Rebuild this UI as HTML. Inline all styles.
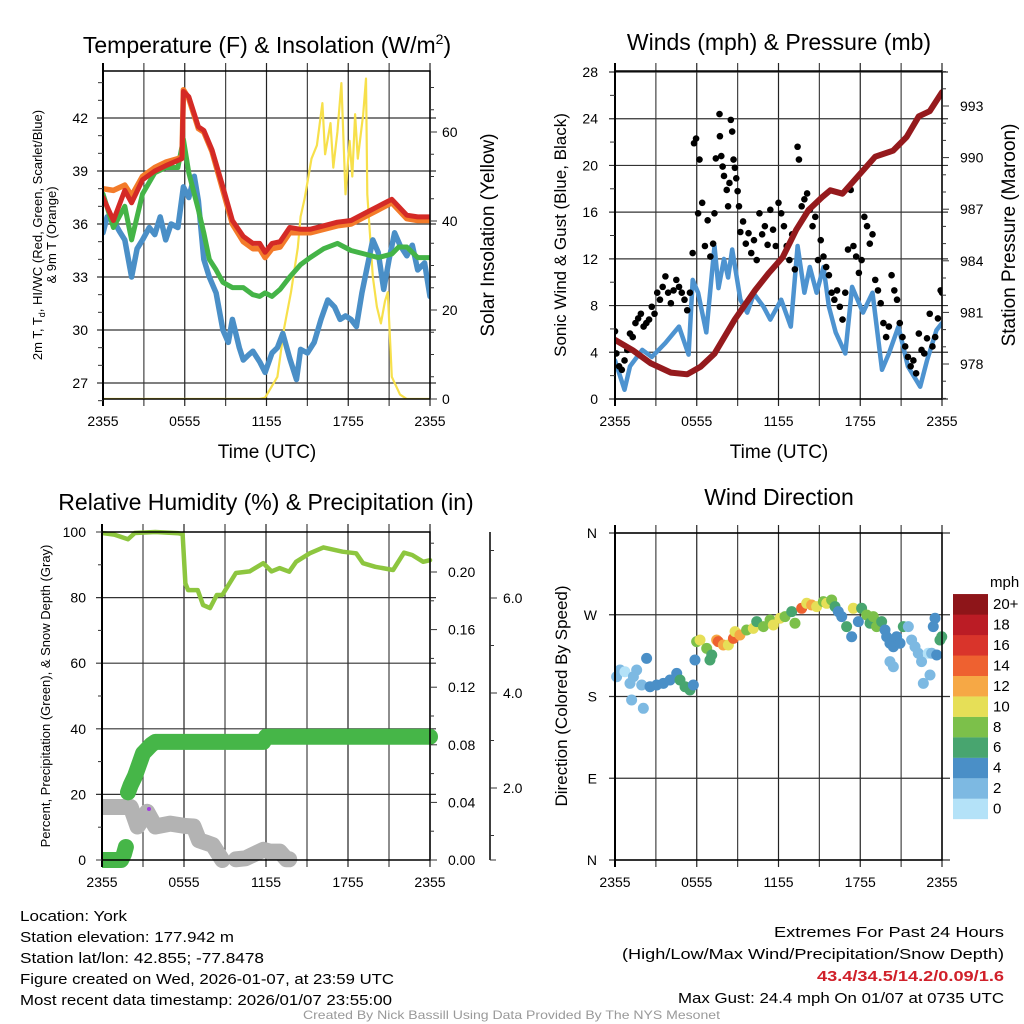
<!DOCTYPE html>
<html><head><meta charset="utf-8"><title>York Mesonet</title>
<style>
html,body{margin:0;padding:0;background:#fff;}
svg{display:block;font-family:"Liberation Sans",Arial,sans-serif;}
</style></head>
<body>
<svg id="chart" xmlns="http://www.w3.org/2000/svg" width="1024" height="1024" viewBox="0 0 1024 1024">
<defs>
<clipPath id="c1"><rect x="103" y="71" width="327" height="328"/></clipPath>
<clipPath id="c2"><rect x="615" y="71" width="327" height="328"/></clipPath>
<clipPath id="c3"><rect x="102" y="520" width="340" height="352"/></clipPath>
<clipPath id="c4"><rect x="605" y="525" width="345" height="342"/></clipPath>
</defs>
<g id="grids"></g>
<g id="marks"></g>
<g id="axes"></g>
<text x="267" y="53" font-size="23" text-anchor="middle">Temperature (F) &amp; Insolation (W/m<tspan dy="-9" font-size="14">2</tspan><tspan dy="9">)</tspan></text>
<text x="779" y="50" font-size="23" text-anchor="middle">Winds (mph) &amp; Pressure (mb)</text>
<text x="266" y="510" font-size="23" text-anchor="middle">Relative Humidity (%) &amp; Precipitation (in)</text>
<text x="779" y="505" font-size="23" text-anchor="middle">Wind Direction</text>
<text x="267" y="458" font-size="19" text-anchor="middle">Time (UTC)</text>
<text x="779" y="458" font-size="19" text-anchor="middle">Time (UTC)</text>
<g transform="translate(42,235) rotate(-90)" font-size="13" text-anchor="middle">
<text x="0" y="0">2m T, T<tspan font-size="9" dy="3">d</tspan><tspan dy="-3">, HI/WC (Red, Green, Scarlet/Blue)</tspan></text>
<text x="0" y="14">&amp; 9m T (Orange)</text></g>
<text transform="translate(494,235) rotate(-90)" font-size="19" text-anchor="middle">Solar Insolation (Yellow)</text>
<text transform="translate(566,235) rotate(-90)" font-size="17" text-anchor="middle">Sonic Wind &amp; Gust (Blue, Black)</text>
<text transform="translate(1015,235) rotate(-90)" font-size="19" text-anchor="middle">Station Pressure (Maroon)</text>
<text transform="translate(50,696) rotate(-90)" font-size="13" text-anchor="middle">Percent, Precipitation (Green), &amp; Snow Depth (Gray)</text>
<text transform="translate(567,696) rotate(-90)" font-size="17" text-anchor="middle">Direction (Colored By Speed)</text>
<text x="990" y="587" font-size="15">mph</text>
<g font-size="15">
<text x="20" y="921" textLength="107" lengthAdjust="spacingAndGlyphs">Location: York</text>
<text x="20" y="942" textLength="214" lengthAdjust="spacingAndGlyphs">Station elevation: 177.942 m</text>
<text x="20" y="963" textLength="244" lengthAdjust="spacingAndGlyphs">Station lat/lon: 42.855; -77.8478</text>
<text x="20" y="984" textLength="374" lengthAdjust="spacingAndGlyphs">Figure created on Wed, 2026-01-07, at 23:59 UTC</text>
<text x="20" y="1005" textLength="372" lengthAdjust="spacingAndGlyphs">Most recent data timestamp: 2026/01/07 23:55:00</text>
</g>
<g font-size="15">
<text x="774" y="937" textLength="230" lengthAdjust="spacingAndGlyphs">Extremes For Past 24 Hours</text>
<text x="622" y="959" textLength="382" lengthAdjust="spacingAndGlyphs">(High/Low/Max Wind/Precipitation/Snow Depth)</text>
<text x="817" y="981" textLength="187" lengthAdjust="spacingAndGlyphs" fill="#d0202a" font-weight="bold">43.4/34.5/14.2/0.09/1.6</text>
<text x="678" y="1003" textLength="326" lengthAdjust="spacingAndGlyphs">Max Gust: 24.4 mph On 01/07 at 0735 UTC</text>
</g>
<text x="303" y="1019" font-size="12" fill="#999" textLength="417" lengthAdjust="spacingAndGlyphs">Created By Nick Bassill Using Data Provided By The NYS Mesonet</text>
</svg>
<script>
// ---------- data ----------
const timeLabels=["2355","0555","1155","1755","2355"];
const tempTicks=[27,30,33,36,39,42];
const insTicks=[0,20,40,60];
const windTicks=[0,4,8,12,16,20,24,28];
const presTicks=[978,981,984,987,990,993];
const rhTicks=[0,20,40,60,80,100];
const precipTicks=[0.00,0.04,0.08,0.12,0.16,0.20];
const snowTicks=[2.0,4.0,6.0];
const dirTicks=["N","E","S","W","N"];
const speedBins=["0","2","4","6","8","10","12","14","16","18","20+"];
const speedColors=["#b4e2f8","#7db9e2","#4a8fc7","#48a56f","#7cc04a","#e6df57","#f6a845","#ee6130","#d9342b","#bb1c25","#8e1519"];

const redH=[0,0.76,1.6,2.1,2.9,3.8,4.6,5.5,5.8,5.9,6.3,7.0,7.4,8.0,8.8,9.5,10.3,11.0,11.5,11.9,12.4,13.0,13.7,14.5,15.2,16.2,17.2,18.2,19.2,20.2,21.2,22.3,23.1,24];
const redT=[37.5,36.2,37.9,37.2,38.5,39.0,39.3,39.6,39.7,43.5,43.2,41.5,41.3,40.2,38.1,36.2,35.3,34.9,34.9,34.4,34.9,35.0,35.8,35.7,35.7,35.9,36.1,36.2,36.6,37.0,37.4,36.5,36.4,36.4];
const orangeT=[38.0,37.9,38.2,37.6,38.7,39.2,39.5,39.7,39.8,43.6,43.1,41.4,41.2,40.1,37.9,36.0,35.0,34.6,34.6,34.1,34.6,34.7,35.5,35.5,35.5,35.7,35.9,36.0,36.4,36.8,37.2,36.3,36.2,36.2];
const greenH=[0,0.76,1.6,2.1,2.9,3.8,4.6,5.5,5.9,6.3,7.0,7.4,7.8,8.3,8.8,9.5,10.3,11.0,11.5,11.9,12.4,13.0,13.7,14.5,15.2,16.2,17.2,18.2,19.2,20.2,21.2,21.7,22.3,23.1,24];
const greenT=[37.7,35.8,37.0,35.1,37.7,38.9,39.2,39.2,40.8,38.9,36.8,35.5,34.0,33.4,32.7,32.4,32.4,32.0,31.9,32.1,31.9,32.3,33.0,33.7,34.1,34.6,34.9,34.5,34.3,34.1,34.3,34.7,34.7,34.1,34.1];
const blueH=[0,0.3,0.76,1.2,1.6,2.1,2.5,2.9,3.4,3.8,4.2,4.6,5.0,5.5,5.9,6.3,6.7,7.0,7.4,7.8,8.3,8.8,9.2,9.5,10.0,10.3,10.7,11.0,11.5,11.9,12.4,12.8,13.2,13.7,14.2,14.5,15.0,15.5,16.0,16.5,17.0,17.4,17.8,18.2,18.6,19.0,19.4,19.8,20.2,20.6,21.0,21.4,21.8,22.3,22.7,23.1,23.6,24];
const blueT=[35.5,36.4,36.2,35.6,35.1,33.0,34.6,35.1,35.8,35.4,36.4,35.1,36.0,35.8,38.1,37.5,38.7,37.3,34.0,33.0,32.1,30.0,29.3,30.6,29.0,28.3,28.6,28.8,28.2,27.6,28.7,29.0,29.8,28.4,27.2,28.9,28.7,29.3,30.6,31.7,31.3,30.6,30.8,30.6,30.2,32.1,33.6,35.1,34.4,32.3,34.0,35.5,34.8,34.2,34.8,33.4,33.8,31.9];
const insH=[0,11.5,11.9,12.8,13.3,13.8,14.3,14.5,14.8,15.3,15.7,16.1,16.3,16.7,16.9,17.2,17.5,17.8,18.1,18.3,18.5,18.7,19.1,19.3,19.4,19.8,20.1,20.4,20.7,20.9,21.2,21.8,22.3,24];
const insV=[0,0,0.3,5,16,24,34,41,45,54,57,66.5,55,62,52,60,71,46,58,50,64,54,64,72,46,27.5,20.7,17,22,24,5,1,0,0];

const presH=[0,1.3,2.6,4.1,5.3,6.3,7.3,8.8,10.3,11.3,12.3,13.3,14.2,15.2,15.8,16.7,17.7,19.1,20.4,21.4,22.3,23.1,24];
const presV=[979.4,978.8,978.05,977.5,977.4,977.85,978.6,980.6,982.3,983.3,984.2,985.8,986.95,987.7,988.1,987.9,988.8,990.05,990.4,991.2,992.4,992.7,993.8];
const sonicH=[0,0.7,1.1,2.0,2.7,3.7,4.7,5.4,5.7,6.1,6.7,7.3,7.6,8.0,8.3,8.6,9.2,9.7,10.2,10.9,11.4,12.2,12.9,13.4,13.9,14.3,14.8,15.3,15.7,16.2,16.9,17.4,18.2,18.9,19.6,20.1,20.8,21.5,22.4,22.9,23.6,24];
const sonicV=[3.3,0.8,2.8,4.2,3.6,4.8,6.2,3.8,10.2,9.1,5.7,13.1,9.5,12.0,10.4,12.8,8.5,7.4,9.0,7.9,6.8,8.5,6.2,13.1,9.1,11.3,9.1,11.3,7.9,5.7,3.9,9.6,7.4,9.1,2.5,3.9,6.2,2.8,1.05,3.3,5.9,6.5];
const gustH=[0,0.1,0.3,0.5,0.7,0.9,1.1,1.3,1.5,1.7,1.9,2.1,2.3,2.5,2.7,2.9,3.1,3.3,3.5,3.7,3.9,4.1,4.3,4.5,4.7,4.9,5.1,5.3,5.5,5.7,5.8,5.95,6.1,6.2,6.4,6.6,6.8,7.0,7.2,7.3,7.4,7.67,7.7,7.8,7.9,8.0,8.2,8.3,8.4,8.5,8.6,8.7,8.8,8.9,9.0,9.1,9.2,9.4,9.6,9.8,10.0,10.2,10.4,10.6,10.8,11.0,11.2,11.4,11.6,11.8,12.0,12.2,12.4,12.6,12.8,13.0,13.2,13.4,13.5,13.7,13.9,14.1,14.3,14.5,14.7,14.9,15.1,15.3,15.5,15.7,15.9,16.1,16.3,16.5,16.7,16.9,17.1,17.3,17.5,17.7,17.9,18.1,18.3,18.5,18.7,18.9,19.1,19.3,19.5,19.7,19.9,20.1,20.3,20.5,20.7,20.9,21.1,21.3,21.5,21.7,21.9,22.1,22.3,22.5,22.7,22.9,23.1,23.3,23.5,23.7,23.9,24];
const gustV=[5.8,3.9,2.8,2.5,3.3,4.2,5.6,5.3,6.5,6.9,7.3,6.2,6.5,6.8,7.9,7.3,9.1,8.5,9.6,10.5,9.1,8.2,9.3,10.2,9.6,9.1,8.5,7.6,9.1,12.5,21.9,22.3,15.9,20.5,16.8,13.1,15.3,12.2,13.3,15.9,20.6,24.4,22.5,20.8,19.9,19.1,17.9,16.5,18.5,23.9,22.9,20.5,19.8,18.9,17.8,16.5,14.3,15.2,13.3,14.2,12.5,13.6,11.9,15.9,14.1,14.8,13.2,16.2,14.5,13.1,16.8,15.9,14.8,13.1,11.9,14.1,11.1,21.6,20.5,16.5,17.1,17.6,16.2,14.8,15.6,11.9,13.6,12.2,11.3,10.6,9.1,8.5,9.3,7.9,6.8,9.1,12.8,17.9,13.1,12.2,10.8,11.9,15.6,14.8,13.3,14.1,10.2,9.3,8.2,6.5,5.3,6.2,10.6,9.3,8.5,6.5,5.3,4.5,3.6,2.8,3.3,2.2,5.6,4.2,3.9,5.2,7.3,4.5,5.3,6.9,9.3,9.1];

const rhH=[0,0.9,1.9,2.4,3.9,5.6,5.9,6.1,6.3,7.0,7.4,7.9,8.4,8.8,9.8,10.8,11.8,12.4,13.0,13.7,14.2,15.2,16.2,17.6,18.6,19.1,20.0,21.3,22.1,22.7,23.5,24];
const rhV=[99.7,99.2,97.8,99.7,100,99.6,99.4,84.3,82.3,82.3,77.7,76.8,80.8,80.8,87.5,88.0,90.5,88.0,89.0,87.9,90.9,93.5,95.3,94.0,93.5,90.5,89.4,88.4,93.7,93.0,90.9,91.4];
const precipH=[0,0.5,1.0,1.4,1.6,1.75,null,1.9,null,1.9,2.1,2.4,2.7,3.0,3.3,3.6,3.9,6,9,11.8,12.0,12.2,18,24];
const precipV=[0,0,0,0,0.004,0.009,null,0.03,null,0.047,0.052,0.058,0.066,0.074,0.077,0.080,0.082,0.082,0.082,0.082,0.0856,0.0856,0.0856,0.0856];
const snowH=[0,1.0,2.1,2.6,3.3,3.9,5.0,6.1,6.7,7.1,7.6,8.1,8.8,null,9.8,10.5,11.3,11.8,12.3,13.0,13.5,13.7];
const snowV=[1.6,1.6,1.6,1.19,1.5,1.19,1.25,1.2,1.19,0.9,0.85,0.8,0.48,null,0.5,0.52,0.63,0.7,0.66,0.66,0.5,0.5];

const dirH=[0.12,0.37,0.73,1.1,1.22,1.35,1.59,1.96,2.08,2.32,2.57,3.06,3.55,4.04,4.53,4.77,5.14,5.5,5.75,5.87,5.99,6.24,6.73,6.97,7.1,7.46,7.58,7.95,8.32,8.69,8.81,9.17,9.66,10.15,10.4,10.89,11.38,11.62,12.11,12.48,12.97,13.21,13.7,14.07,14.43,14.8,15.29,15.54,15.9,16.15,16.39,16.64,17.0,17.37,17.49,17.86,18.1,18.47,18.72,18.96,19.2,19.57,19.82,19.94,20.18,20.43,20.18,20.43,20.67,20.92,21.16,21.53,21.77,22.02,22.26,22.5,22.63,22.99,23.12,23.24,23.36,23.49,23.61,23.85,23.98];
const dirV=[201.8,209.2,207.3,194.5,176.2,201.8,209.2,192.7,167,222,190.8,192.7,194.5,198.2,205.5,198.2,190.8,187.2,192.7,220.2,240.4,242.2,233,220.2,225.7,242.2,240.4,236.7,236.7,244,251.4,247.7,253.2,255,262.4,256.9,264.2,258.7,266.1,267.9,273.4,260.6,277.1,282.6,280.7,278.9,284.4,282.6,286.3,278.9,273.4,267.9,256.9,245.8,277.1,262.4,277.1,269.7,260.6,267.9,256.9,262.4,253.2,245.8,238.6,234.8,218.4,212.8,245.8,238.6,256.9,256.9,242.2,234.8,227.6,218.4,194.5,227.6,203.7,227.6,256.9,266.1,225.7,242.2,245.8];
const dirSpd=[2,2,0,2,2,2,2,2,2,4,4,4,4,4,4,6,6,6,4,4,8,10,8,6,6,12,14,12,10,14,10,12,8,10,6,8,8,10,10,8,6,8,14,10,12,10,8,10,8,6,4,4,6,4,10,4,6,8,6,8,8,6,4,4,4,4,2,2,4,4,6,2,2,2,2,2,2,0,2,2,4,4,4,6,6];

// ---------- axes ----------
const P1={x0:103,x1:430,y0:71,y1:399}, P2={x0:615,x1:942,y0:71,y1:399}, P3={x0:102,x1:430,y0:532,y1:860}, P4={x0:615,x1:942,y0:533,y1:860};
const xs=(p,h)=>p.x0+h/24*(p.x1-p.x0);
const yT=v=>118+(42-v)/3*53;
const yI=v=>399-v/20*89;
const yW=v=>399-v*327/28;
const yP=v=>364-(v-978)*17.2;
const yR=v=>860-v*3.28;
const yPr=v=>860-v*1440;
const yS=v=>Math.min(860,883-v*47.5);
const yD=d=>860-d*327/360;

const NS="http://www.w3.org/2000/svg";
const G=document.getElementById('grids'),M=document.getElementById('marks'),A=document.getElementById('axes');
function mk(parent,tag,a){const e=document.createElementNS(NS,tag);for(const k in a)e.setAttribute(k,a[k]);parent.appendChild(e);return e;}
function pts(H,V,p,yf){let segs=[],cur=[];for(let i=0;i<H.length;i++){if(H[i]===null){if(cur.length)segs.push(cur);cur=[];continue;}cur.push(xs(p,H[i]).toFixed(1)+','+yf(V[i]).toFixed(1));}if(cur.length)segs.push(cur);return segs;}
function line(H,V,p,yf,color,w,clip,name){
  pts(H,V,p,yf).forEach(s=>{
    const e=mk(M,'polyline',{points:s.join(' '),fill:'none',stroke:color,'stroke-width':w,'stroke-linejoin':'round','stroke-linecap':'round','clip-path':'url(#'+clip+')'});
    
    
  });
}
function label(parent,x,y,t,anchor,size,name){const e=mk(parent,'text',{x:x,y:y,'font-size':size||14,'text-anchor':anchor||'middle'});e.textContent=t;
  
  
  return e;}

// time grid and labels
[P1,P2,P3,P4].forEach((p,pi)=>{
  for(let h=0;h<=24;h+=3){
    const x=xs(p,h);
    const g=mk(G,'line',{x1:x,y1:p.y0-8,x2:x,y2:p.y1+7,stroke:(h%6?'#444':'#222'),'stroke-width':1.2});
    
    
  }
  timeLabels.forEach((t,i)=>{label(A,xs(p,i*6),p.y1+27,t,'middle',14,'time-tick-label');});
  const f=mk(A,'rect',{x:p.x0,y:p.y0,width:p.x1-p.x0,height:p.y1-p.y0,fill:'none',stroke:'#000','stroke-width':1.5});
  
  
  const sp=mk(A,'line',{x1:p.x0,y1:p.y0-8,x2:p.x0,y2:p.y1+7,stroke:'#000','stroke-width':2});
  
  
});
function hgrid(p,y,ext){const g=mk(G,'line',{x1:p.x0-6,y1:y,x2:p.x1+(ext||6),y2:y,stroke:'#333','stroke-width':1.2});
  
  }
function tick(x1,y,len){const t=mk(A,'line',{x1:x1,y1:y,x2:x1+len,y2:y,stroke:'#333','stroke-width':1});
  
  }
// panel 1
tempTicks.forEach(v=>{hgrid(P1,yT(v));label(A,88,yT(v)+5,String(v),'end',14,'temp-tick-label');});
for(let v=26;v<=44;v++){if(v%3)tick(P1.x0-5,yT(v),5);}
insTicks.forEach(v=>{tick(P1.x1,yI(v),7);label(A,442,yI(v)+5,String(v),'start',14,'insolation-tick-label');});
for(let v=5;v<=70;v+=5){tick(P1.x1,yI(v),4);}
// panel 2
windTicks.forEach(v=>{hgrid(P2,yW(v));label(A,598,yW(v)+5,String(v),'end',14,'wind-tick-label');});
for(let v=2;v<28;v+=4){tick(P2.x0-5,yW(v),5);}
presTicks.forEach(v=>{tick(P2.x1,yP(v),7);label(A,960,yP(v)+5,String(v),'start',14,'pressure-tick-label');});
for(let v=976;v<=995;v++){if((v-978)%3)tick(P2.x1,yP(v),4);}
// panel 3
rhTicks.forEach(v=>{if(v>0&&v<100)hgrid(P3,yR(v));else tick(P3.x0-6,yR(v),6);label(A,86,yR(v)+5,String(v),'end',14,'rh-tick-label');});
for(let v=10;v<100;v+=20)tick(P3.x0-4,yR(v),4);
precipTicks.forEach(v=>{tick(P3.x1,yPr(v),7);label(A,448,yPr(v)+5,v.toFixed(2),'start',14,'precip-tick-label');});
for(let v=0.02;v<0.23;v+=0.04)tick(P3.x1,yPr(v),4);
const sax=mk(A,'line',{x1:490,y1:532,x2:490,y2:860,stroke:'#000','stroke-width':1.5});


snowTicks.forEach(v=>{tick(490,883-v*47.5,7);label(A,503,883-v*47.5+5,v.toFixed(1),'start',14,'snow-tick-label');});
for(let v=1;v<=7;v++){if(v%2)tick(490,883-v*47.5,4);}
tick(490,860,6);
// panel 4
dirTicks.forEach((t,i)=>{const y=yD(i*90);if(i>0&&i<4)hgrid(P4,y,8);else{const l=mk(G,'line',{x1:P4.x0-6,y1:y,x2:P4.x1+8,y2:y,stroke:'#333','stroke-width':1.2});}label(A,597,y+5,t,'end',14,'direction-tick-label');});
// colorbar
speedColors.forEach((c,i)=>{
  const y=819-(i+1)*20.45;
  const r=mk(A,'rect',{x:953,y:y,width:35,height:20.6,fill:c});
  
  
  label(A,993,y+15,speedBins[i],'start',15,'colorbar-label');
});

// ---------- series ----------
const yel=mk(M,'polyline',{points:pts(insH,insV,P1,yI)[0].join(' '),fill:'none',stroke:'#f7e04b','stroke-width':2.2,'stroke-linejoin':'round','clip-path':'url(#c1)'});


line(blueH,blueT,P1,yT,'#4a8fc7',5.5,'c1','windchill-line');
line(greenH,greenT,P1,yT,'#44b447',5,'c1','dewpoint-line');
line(redH,orangeT,P1,yT,'#f37b2a',5.5,'c1','temp-9m-line');
line(redH,redT,P1,yT,'#d42a26',5,'c1','temp-2m-line');

line(sonicH,sonicV,P2,yW,'#4d93d0',4.5,'c2','sonic-wind-line');
gustH.forEach((h,i)=>{
  const c=mk(M,'circle',{cx:xs(P2,h),cy:yW(gustV[i]),r:3.3,fill:'#000','clip-path':'url(#c2)'});
  
  
});
line(presH,presV,P2,yP,'#951a1d',6,'c2','pressure-line');

line(rhH,rhV,P3,yR,'#8dc63f',4.5,'c3','rh-line');
line(snowH,snowV,P3,yS,'#b3b3b3',16,'c3','snow-depth-line');
line(precipH,precipV,P3,yPr,'#46b648',16,'c3','precip-line');
const pd=mk(M,'circle',{cx:149,cy:809,r:2,fill:'#a23ce0'});



dirH.forEach((h,i)=>{
  const c=mk(M,'circle',{cx:xs(P4,h),cy:yD(dirV[i]),r:5.5,fill:speedColors[Math.min(10,Math.round(dirSpd[i]/2))],'clip-path':'url(#c4)'});
  
  
});
</script>
</body></html>
